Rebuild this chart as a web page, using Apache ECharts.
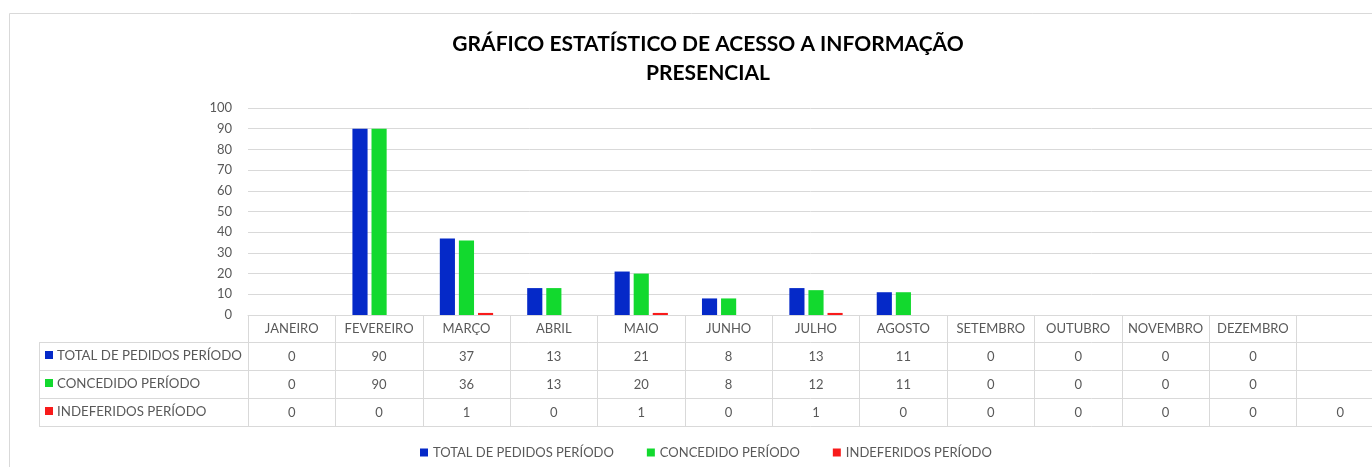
<!DOCTYPE html>
<html>
<head>
<meta charset="utf-8">
<script src="https://cdn.jsdelivr.net/npm/echarts@6/dist/echarts.min.js"></script>
<style>
html,body{margin:0;padding:0;background:#fff;}
#main{width:1372px;height:467px;}
</style>
</head>
<body>
<div id="main"></div>
<script>
const titleLines = ['GRÁFICO ESTATÍSTICO DE ACESSO A INFORMAÇÃO', 'PRESENCIAL'];
const categories = ['JANEIRO','FEVEREIRO','MARÇO','ABRIL','MAIO','JUNHO','JULHO','AGOSTO','SETEMBRO','OUTUBRO','NOVEMBRO','DEZEMBRO',''];
const seriesNames = ['TOTAL DE PEDIDOS PERÍODO','CONCEDIDO PERÍODO','INDEFERIDOS PERÍODO'];
const totalPedidos = [0, 90, 37, 13, 21, 8, 13, 11, 0, 0, 0, 0, null];
const concedido   = [0, 90, 36, 13, 20, 8, 12, 11, 0, 0, 0, 0, null];
const indeferidos = [0, 0, 1, 0, 1, 0, 1, 0, 0, 0, 0, 0, 0];
const yTicks = [0, 10, 20, 30, 40, 50, 60, 70, 80, 90, 100];

const colors = ['#0529C8', '#12D92E', '#F81B1B'];
const seriesValues = [totalPedidos, concedido, indeferidos];
const FONT = 'Lato';
const GRAY = '#595959';
const LINE = '#D9D9D9';

const chart = echarts.init(document.getElementById('main'));

const gridTop = 108, axisY = 315, rowH = [27, 28, 28, 28];
const tableLeft = 39, gridLeft = 248;

const idx = categories.map((c, i) => String(i));

const xAxes = [];
xAxes.push({
  type: 'category', data: categories, position: 'bottom', offset: 0,
  axisLine: {show: true, onZero: false, lineStyle: {color: LINE, width: 1}},
  axisTick: {show: true, interval: 0, alignWithLabel: false, length: rowH[0], lineStyle: {color: LINE}},
  axisLabel: {interval: 0, margin: 7, color: GRAY, fontFamily: FONT, fontSize: 13}
});
let off = rowH[0];
seriesValues.forEach((vals, r) => {
  xAxes.push({
    type: 'category', data: idx, position: 'bottom', offset: off,
    axisLine: {show: true, onZero: false, lineStyle: {color: LINE, width: 1}},
    axisTick: {show: true, interval: 0, alignWithLabel: false, length: rowH[r + 1], lineStyle: {color: LINE}},
    axisLabel: {interval: 0, margin: 8, color: GRAY, fontFamily: FONT, fontSize: 13,
      formatter: (v, i) => vals[i] == null ? '' : String(vals[i])}
  });
  off += rowH[r + 1];
});
xAxes.push({
  type: 'category', data: idx, position: 'bottom', offset: off,
  axisLine: {show: true, onZero: false, lineStyle: {color: LINE, width: 1}},
  axisTick: {show: false}, axisLabel: {show: false}
});

const graphics = [];
graphics.push({type: 'rect', silent: true, shape: {x: 9.5, y: 13.5, width: 1400, height: 500},
  style: {fill: 'none', stroke: LINE, lineWidth: 1}});
graphics.push({type: 'text', silent: true, x: 708, y: 30,
  style: {text: titleLines.join('\n'), font: 'bold 21px ' + FONT, fill: '#000', textAlign: 'center', lineHeight: 29}});
let yy = axisY + rowH[0];
const tableBottom = axisY + rowH.reduce((a, b) => a + b, 0);
graphics.push({type: 'line', silent: true, shape: {x1: tableLeft + 0.5, y1: yy, x2: tableLeft + 0.5, y2: tableBottom},
  style: {stroke: LINE, lineWidth: 1}});
seriesNames.forEach((name, r) => {
  const h = rowH[r + 1];
  graphics.push({type: 'line', silent: true, shape: {x1: tableLeft, y1: yy + 0.5, x2: gridLeft, y2: yy + 0.5},
    style: {stroke: LINE, lineWidth: 1}});
  graphics.push({type: 'rect', silent: true, shape: {x: 45, y: yy + h / 2 - 5, width: 8, height: 8},
    style: {fill: colors[r]}});
  graphics.push({type: 'text', silent: true, x: 57, y: yy + h / 2,
    style: {text: name, font: '13.3px ' + FONT, fill: GRAY, textVerticalAlign: 'middle'}});
  yy += h;
});
graphics.push({type: 'line', silent: true, shape: {x1: tableLeft, y1: yy + 0.5, x2: gridLeft, y2: yy + 0.5},
  style: {stroke: LINE, lineWidth: 1}});

chart.setOption({
  animation: false,
  textStyle: {fontFamily: FONT},
  grid: {left: gridLeft, width: 1136, top: gridTop, height: axisY - gridTop,
         containLabel: false, outerBoundsMode: 'none'},
  legend: {
    left: 415, top: 441, icon: 'rect', itemWidth: 8, itemHeight: 8, itemGap: 33,
    textStyle: {color: GRAY, fontFamily: FONT, fontSize: 13},
    data: seriesNames
  },
  xAxis: xAxes,
  yAxis: {
    type: 'value', min: yTicks[0], max: yTicks[yTicks.length - 1], interval: 10,
    axisLine: {show: false}, axisTick: {show: false},
    axisLabel: {color: GRAY, fontFamily: FONT, fontSize: 13, margin: 16},
    splitLine: {lineStyle: {color: LINE, width: 1}}
  },
  series: seriesNames.map((name, r) => ({
    name: name, type: 'bar', xAxisIndex: 0,
    data: seriesValues[r].map(v => v === 0 ? null : v),
    itemStyle: {color: colors[r]},
    barGap: '26%', barCategoryGap: '39%'
  })),
  graphic: graphics
});
</script>
</body>
</html>
